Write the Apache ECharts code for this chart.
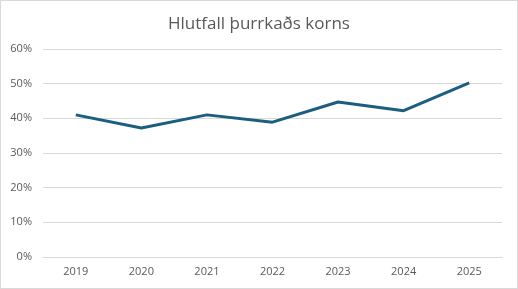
<!DOCTYPE html>
<html><head><meta charset="utf-8">
<script src="https://cdn.jsdelivr.net/npm/echarts@6/dist/echarts.min.js"></script>
<style>html,body{margin:0;padding:0;background:#fff}#c{width:518px;height:289px;box-sizing:border-box;border:1px solid #d9d9d9}</style>
</head><body><div id="c"></div>
<script>
const years = ['2019','2020','2021','2022','2023','2024','2025'];
const shares = [41.0, 37.2, 41.0, 38.9, 44.7, 42.2, 50.2];
const chart = echarts.init(document.getElementById('c'));
chart.setOption({
  animation:false,
  title:{text:'Hlutfall þurrkaðs korns',left:'center',top:10,textStyle:{fontFamily:'Open Sans',fontSize:17,fontWeight:'normal',color:'#595959'}},
  grid:{left:42,right:15,top:48,bottom:31},
  xAxis:{type:'category',data:years,boundaryGap:true,
    axisLine:{lineStyle:{color:'#d9d9d9'}},axisTick:{show:false},
    axisLabel:{color:'#595959',fontSize:11,fontFamily:'Open Sans',margin:9}},
  yAxis:{type:'value',min:0,max:60,interval:10,
    axisLabel:{formatter:'{value}%',color:'#595959',fontSize:11,fontFamily:'Open Sans',margin:11},
    splitLine:{lineStyle:{color:'#d9d9d9'}}},
  series:[{type:'line',data:shares,symbol:'none',lineStyle:{color:'#1b5e80',width:3}}]
});
</script></body></html>
